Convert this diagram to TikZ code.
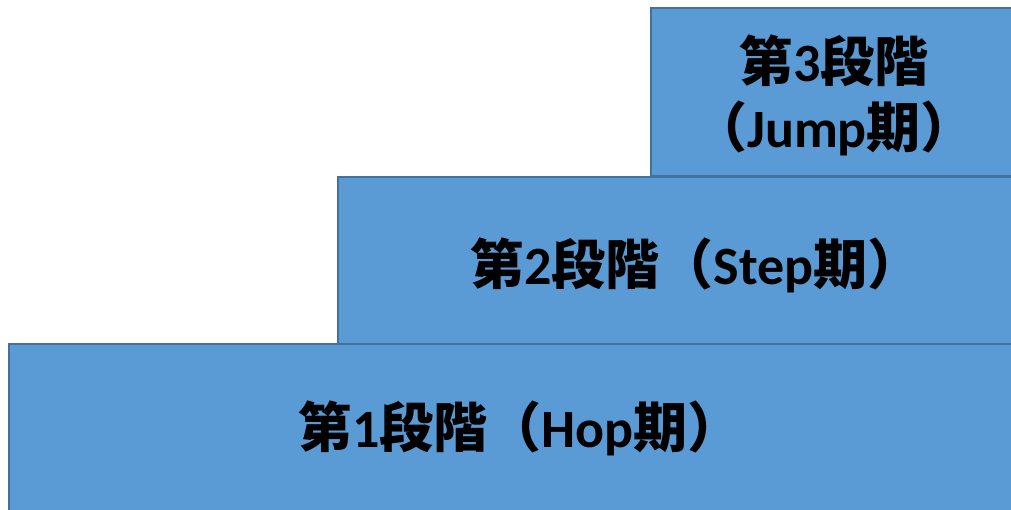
\documentclass[tikz,border=0pt]{standalone}
\usepackage{fontspec}
\setmainfont{Carlito}
\newfontfamily\jpfont{Noto Sans CJK JP}
\usetikzlibrary{positioning}

\definecolor{stepfill}{RGB}{91,155,213}
\definecolor{stepline}{RGB}{65,113,156}

\begin{document}
\begin{tikzpicture}[
    x=1pt, y=-1pt,
    stage/.style={rectangle, draw=stepline, fill=stepfill, line width=1.6pt, anchor=north west, inner sep=0pt},
    stagetext/.style={font=\fontsize{54}{66}\selectfont\bfseries, text=black, align=center}
]
\useasboundingbox (0,0) rectangle (1011,510);
\clip (0,0) rectangle (1011,510);

% steps
\node[stage, minimum width=1015pt, minimum height=167pt] (hop) at (8,343) {};
\node[stage, minimum width=683pt, minimum height=167pt] (stepbox) at (337,176) {};
\node[stage, minimum width=370pt, minimum height=168pt] (jump) at (650,7) {};

% labels
\node[stagetext] (hoptext) at (520,428) {{\jpfont 第}1{\jpfont 段階（}Hop{\jpfont 期）}};
\node[stagetext] (steptext) at (696,265) {{\jpfont 第}2{\jpfont 段階（}Step{\jpfont 期）}};
\node[stagetext] (jumptext) at (834,95) {{\jpfont 第}3{\jpfont 段階}\\{\jpfont （}Jump{\jpfont 期）}};
\end{tikzpicture}
\end{document}
